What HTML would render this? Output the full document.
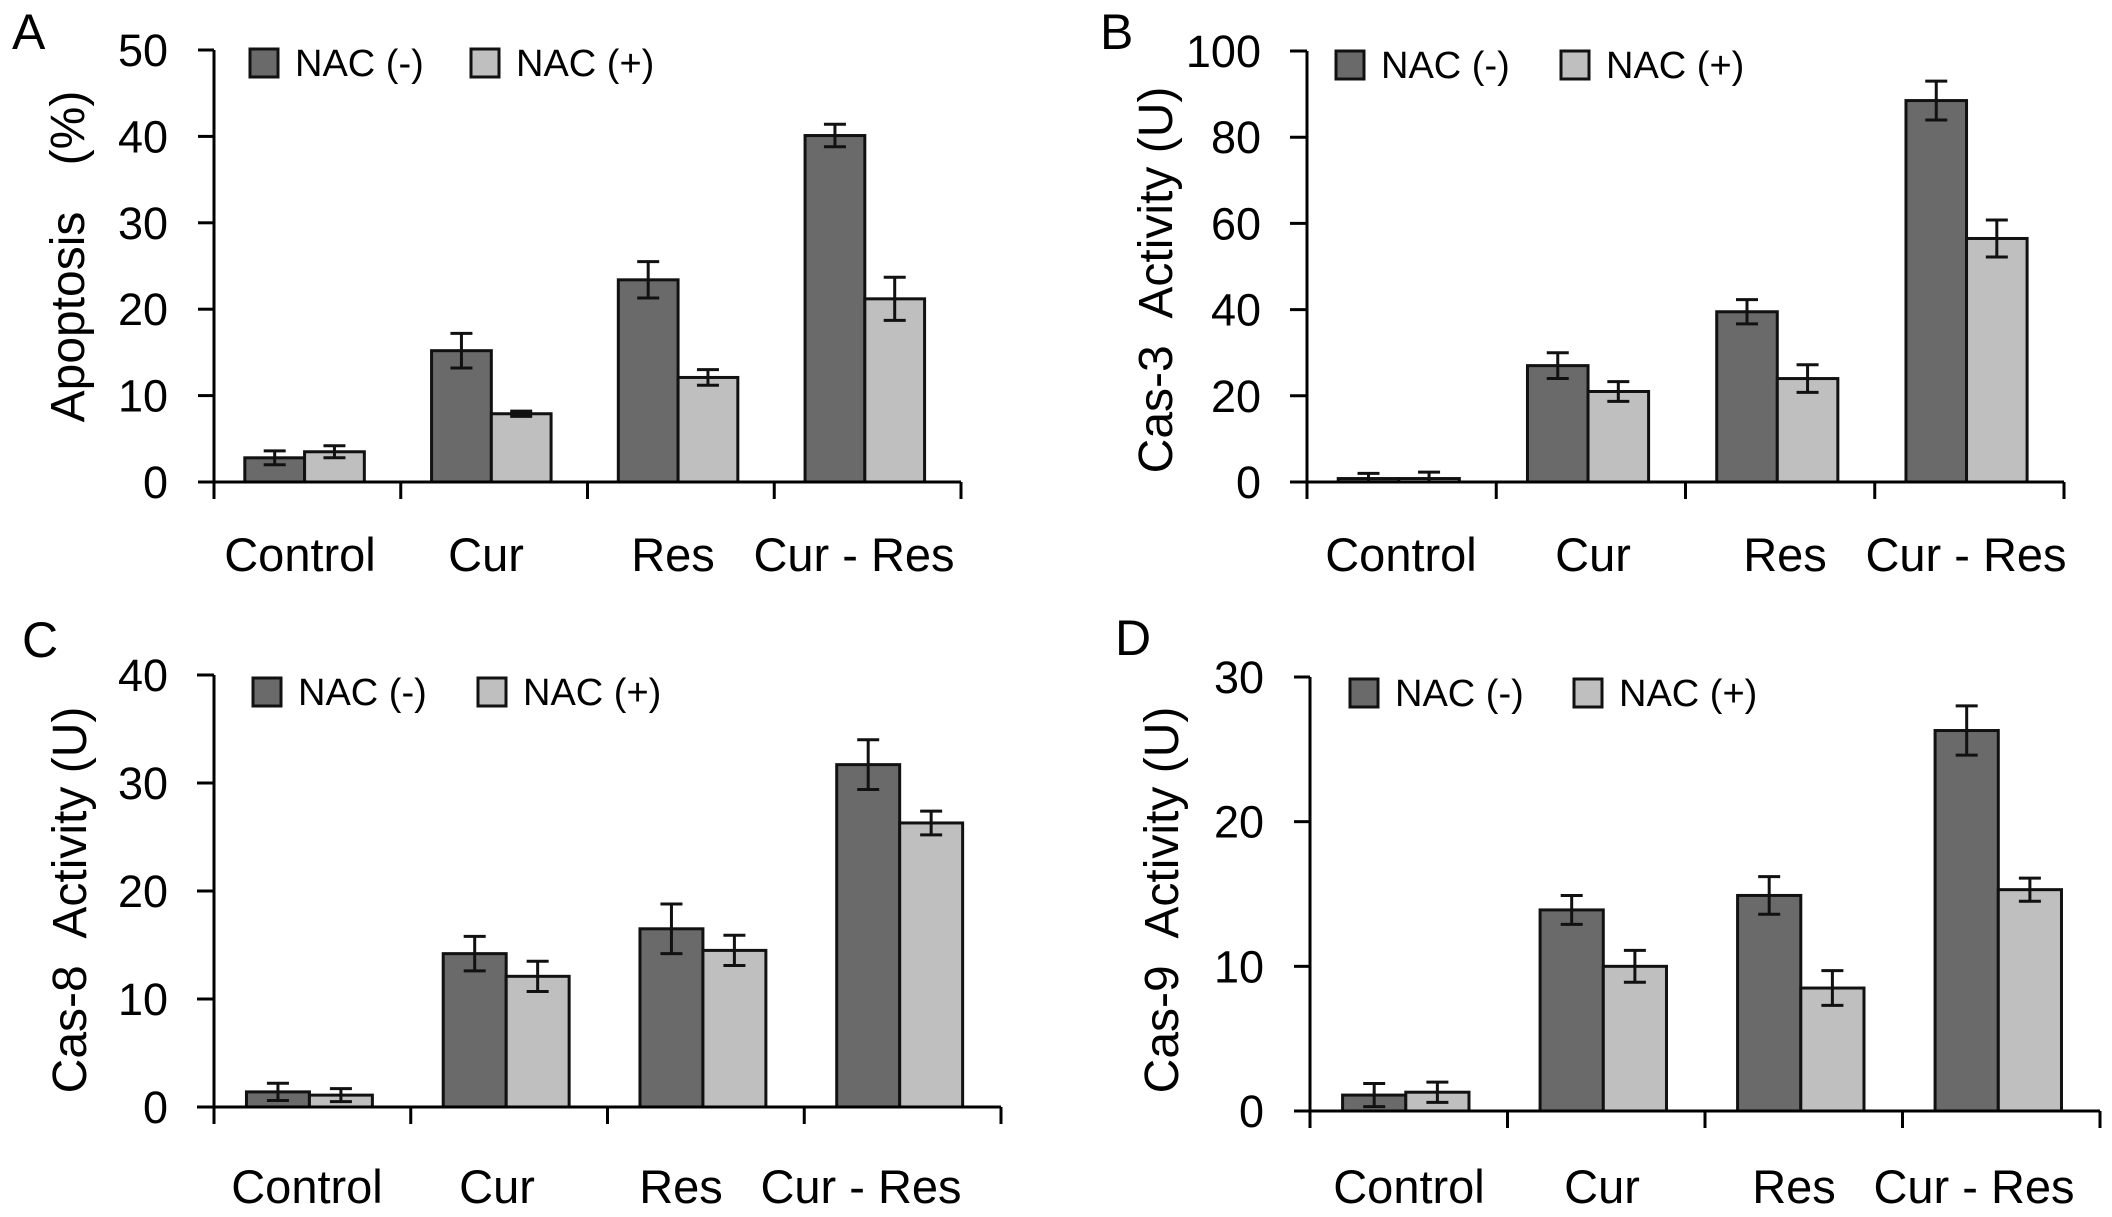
<!DOCTYPE html>
<html><head><meta charset="utf-8"><style>
html,body{margin:0;padding:0;background:#fff}
svg{display:block;font-family:"Liberation Sans",Arial,sans-serif}
</style></head><body>
<svg id="fig" width="2112" height="1217" viewBox="0 0 2112 1217" xmlns="http://www.w3.org/2000/svg"></svg>
<script>
const categories = ["Control","Cur","Res","Cur - Res"];
const seriesNames = ["NAC (-)","NAC (+)"];
const aNeg = [2.8,15.2,23.4,40.1], aPos = [3.5,7.9,12.1,21.2];
const aNegErr = [0.8,2.0,2.1,1.3], aPosErr = [0.7,0.3,0.9,2.5];
const aTicks = [0,10,20,30,40,50];
const bNeg = [0.8,27,39.5,88.5], bPos = [0.8,21,24,56.5];
const bNegErr = [1.2,3.0,2.8,4.5], bPosErr = [1.5,2.3,3.2,4.3];
const bTicks = [0,20,40,60,80,100];
const cNeg = [1.4,14.2,16.5,31.7], cPos = [1.1,12.1,14.5,26.3];
const cNegErr = [0.8,1.6,2.3,2.3], cPosErr = [0.6,1.4,1.4,1.1];
const cTicks = [0,10,20,30,40];
const dNeg = [1.1,13.9,14.9,26.3], dPos = [1.3,10.0,8.5,15.3];
const dNegErr = [0.8,1.0,1.3,1.7], dPosErr = [0.7,1.1,1.2,0.8];
const dTicks = [0,10,20,30];

const NS="http://www.w3.org/2000/svg";
const svg=document.getElementById('fig');
function mk(tag,attrs,parent){const e=document.createElementNS(NS,tag);for(const k in attrs)e.setAttribute(k,attrs[k]);(parent||svg).appendChild(e);return e;}
const SP='\u00a0\u00a0';
const panels=[
 {id:'a',letter:'A',lx:12,ly:49,ax:214,ax0:198,axEnd:961,y0:482,yTop:50,ticks:aTicks,neg:aNeg,pos:aPos,ne:aNegErr,pe:aPosErr,
  leg:{x1:250,x2:471,y:49},catY:571,catX:[300,486,673,854],titles:[["Apoptosis",84,317],["(%)",84,128]]},
 {id:'b',letter:'B',lx:1100,ly:49,ax:1307,ax0:1290,axEnd:2064,y0:482,yTop:51,ticks:bTicks,neg:bNeg,pos:bPos,ne:bNegErr,pe:bPosErr,
  leg:{x1:1336,x2:1561,y:51},catY:571,catX:[1401,1593,1785,1966],titles:[["Cas-3"+SP+"Activity (U)",1172,280]]},
 {id:'c',letter:'C',lx:22,ly:657,ax:214,ax0:197,axEnd:1001,y0:1107,yTop:675,ticks:cTicks,neg:cNeg,pos:cPos,ne:cNegErr,pe:cPosErr,
  leg:{x1:253,x2:478,y:678},catY:1203,catX:[307,497,681,861],titles:[["Cas-8"+SP+"Activity (U)",86,900]]},
 {id:'d',letter:'D',lx:1115,ly:655,ax:1310,ax0:1294,axEnd:2100,y0:1111,yTop:677,ticks:dTicks,neg:dNeg,pos:dPos,ne:dNegErr,pe:dPosErr,
  leg:{x1:1350,x2:1574,y:679},catY:1203,catX:[1409,1602,1794,1974],titles:[["Cas-9"+SP+"Activity (U)",1178,900]]}
];

panels.forEach(p=>{
  const g=mk('g',{});
  
  
  const maxV=p.ticks[p.ticks.length-1];
  const yS=v=>p.y0-(v/maxV)*(p.y0-p.yTop);
  const gw=(p.axEnd-p.ax)/categories.length;
  const xS=i=>p.ax+i*gw;
  const L=mk('text',{x:p.lx,y:p.ly,'font-size':50},g);L.textContent=p.letter;
  
  p.titles.forEach(t=>{
    const T=mk('text',{x:0,y:0,'font-size':48,'text-anchor':'middle',transform:`translate(${t[1]},${t[2]}) rotate(-90)`},g);
    T.textContent=t[0];
    
  });
  const bw=gw*0.32, off=gw*0.165;
  [[p.neg,p.ne,'#6a6a6a'],[p.pos,p.pe,'#bfbfbf']].forEach((s,si)=>{
    s[0].forEach((v,i)=>{
      const x=xS(i)+off+si*bw;
      const r=mk('rect',{x:x,y:yS(v),width:bw,height:p.y0-yS(v),fill:s[2],stroke:'#111','stroke-width':3},g);
      
      
      const cx=x+bw/2, hi=yS(v+s[1][i]), lo=yS(Math.max(0,v-s[1][i]));
      const e=mk('path',{d:`M${cx} ${hi}V${lo}M${cx-11} ${hi}H${cx+11}M${cx-11} ${lo}H${cx+11}`,stroke:'#111','stroke-width':3,fill:'none'},g);
      
      
    });
  });
  const ya=mk('line',{x1:p.ax,y1:p.yTop,x2:p.ax,y2:p.y0+17,stroke:'#000','stroke-width':3},g);
  
  const xa=mk('line',{x1:p.ax0,y1:p.y0,x2:p.axEnd,y2:p.y0,stroke:'#000','stroke-width':3},g);
  
  for(let i=1;i<=categories.length;i++){
    mk('line',{x1:xS(i),y1:p.y0,x2:xS(i),y2:p.y0+17,stroke:'#000','stroke-width':3},g);
  }
  p.ticks.forEach(t=>{
    mk('line',{x1:p.ax0,y1:yS(t),x2:p.ax,y2:yS(t),stroke:'#000','stroke-width':3},g);
    const tl=mk('text',{x:p.ax-46,y:yS(t)+16,'font-size':45,'text-anchor':'end'},g);
    tl.textContent=t;
    
  });
  categories.forEach((c,i)=>{
    const cl=mk('text',{x:p.catX[i],y:p.catY,'font-size':47,'text-anchor':'middle'},g);
    cl.textContent=c;
    
  });
  [[p.leg.x1,'#6a6a6a',seriesNames[0]],[p.leg.x2,'#bfbfbf',seriesNames[1]]].forEach(l=>{
    const sq=mk('rect',{x:l[0],y:p.leg.y,width:28,height:28,fill:l[1],stroke:'#111','stroke-width':3},g);
    
    const lt=mk('text',{x:l[0]+45,y:p.leg.y+27,'font-size':38},g);
    lt.textContent=l[2];
    
  });
});
</script>
</body></html>
